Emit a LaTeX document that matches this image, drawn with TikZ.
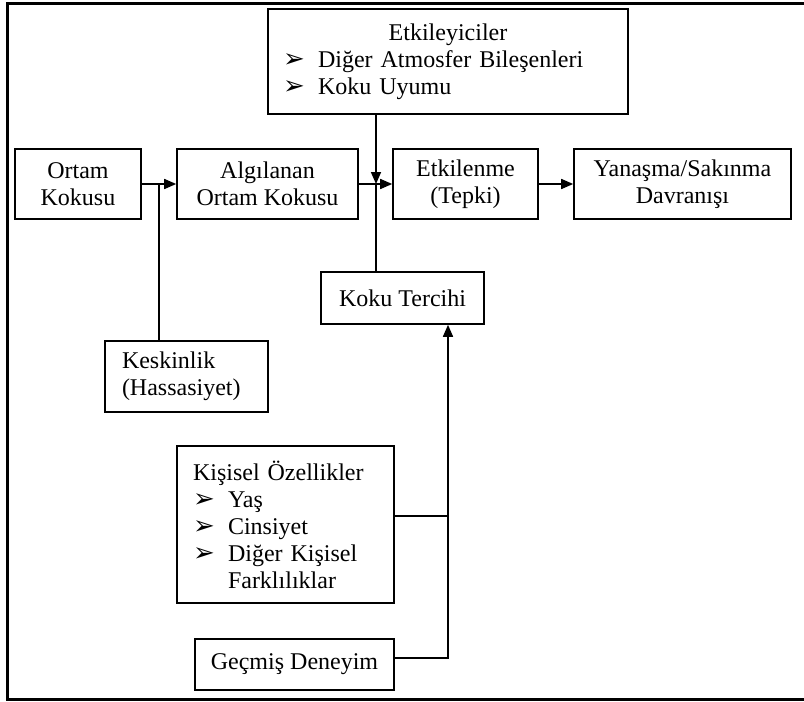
\documentclass[tikz,border=0pt]{standalone}
\usepackage{fontspec}
\setmainfont{Liberation Serif}
\newfontfamily\dingfont{DejaVu Sans}
\usetikzlibrary{arrows.meta,positioning}
\newcommand{\arrowbullet}{\makebox[17.5pt][l]{\dingfont\fontsize{13}{13}\selectfont ➢}}

\begin{document}
\begin{tikzpicture}[
  x=0.5pt, y=-0.5pt,
  font=\fontsize{12}{13.5}\selectfont,
  box/.style={draw, line width=0.8pt, align=center, inner sep=0pt, minimum height=35pt},
  listbox/.style={box, align=left, inner xsep=8pt},
  flow/.style={-{Triangle[length=6pt,width=5pt]}, line width=0.8pt},
  link/.style={line width=0.8pt}
]
\useasboundingbox (0,0) rectangle (804,702);
\draw[line width=1.5pt] (804,3) -- (7,3) -- (7,699) -- (804,699);

\node[listbox, inner xsep=7.5pt, text width=165pt, minimum height=52.5pt] (etk) at (448,61.5)
  {\makebox[165pt]{Etkileyiciler}\\ \arrowbullet Diğer Atmosfer Bileşenleri\\ \arrowbullet Koku Uyumu};
\node[box, minimum width=63pt] (ortam) at (78,184) {Ortam\\Kokusu};
\node[box, minimum width=90.5pt] (alg) at (267.5,184) {Algılanan\\Ortam Kokusu};
\node[box, minimum width=72.5pt] (etkl) at (465.5,184) {Etkilenme\\(Tepki)};
\node[box, minimum width=108.5pt] (yan) at (682.5,184) {Yanaşma/Sakınma\\Davranışı};
\node[box, minimum width=81.5pt, minimum height=26pt] (tercih) at (402.5,298) {Koku Tercihi};
\node[listbox, inner xsep=8.5pt, text width=64.5pt, minimum height=35.5pt] (kesk) at (186.5,376.5) {Keskinlik\\(Hassasiyet)};
\node[listbox, text width=92.5pt, minimum height=78.5pt] (kis) at (285.5,524.5)
  {Kişisel Özellikler\\ \arrowbullet Yaş\\ \arrowbullet Cinsiyet\\ \arrowbullet Diğer Kişisel\\ \hspace*{17.5pt}Farklılıklar};
\node[box, minimum width=99.5pt, minimum height=25.5pt] (gec) at (294.5,664.5) {Geçmiş Deneyim};

\coordinate (senj) at (159,184);
\coordinate (etkj) at (376,184);
\coordinate (kisj) at (448,516);
\coordinate (gecj) at (448,658);

\draw[flow] (ortam) -- (alg);
\draw[link] (kesk.north -| senj) -- (senj);
\draw[flow] (etk.south -| etkj) -- (etkj);
\draw[flow] (alg) -- (etkl);
\draw[link] (tercih.north -| etkj) -- (etkj);
\draw[flow] (etkl) -- (yan);
\draw[link] (kis.east |- kisj) -- (kisj);
\draw[flow] (gec.east |- gecj) -- (gecj) -- (tercih.south -| gecj);
\end{tikzpicture}
\end{document}
